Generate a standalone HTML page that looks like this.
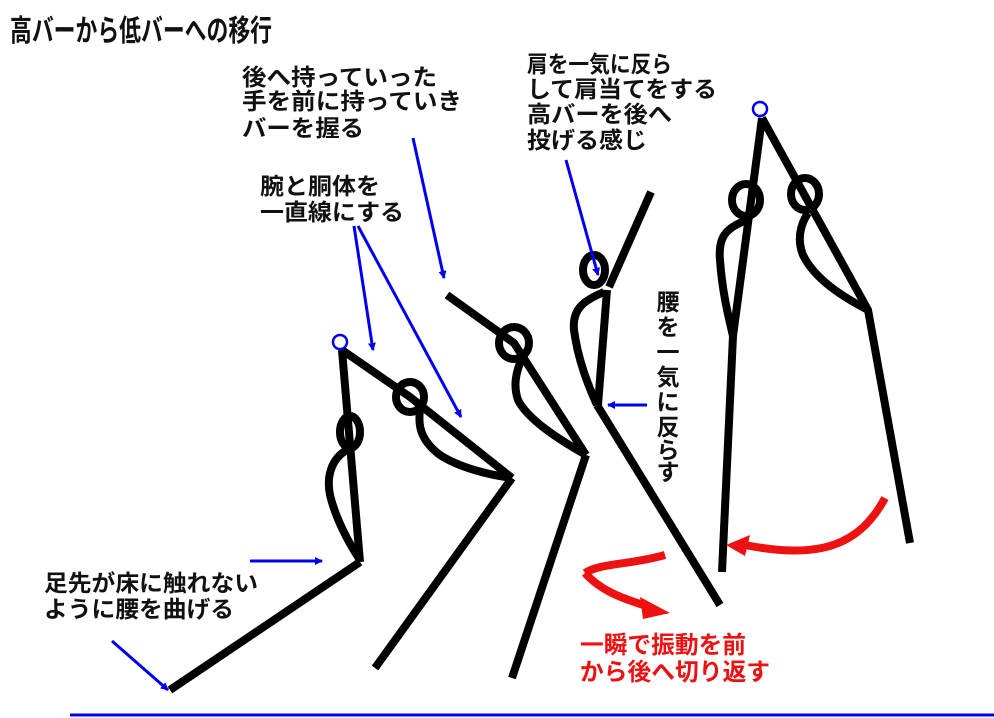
<!DOCTYPE html>
<html><head><meta charset="utf-8"><style>
html,body{margin:0;padding:0;background:#fff}
svg{display:block}
text{font-family:"Liberation Sans","Noto Sans CJK JP",sans-serif;font-weight:bold}
</style></head><body>
<svg width="994" height="718" viewBox="0 0 994 718" xmlns="http://www.w3.org/2000/svg">
<defs>
<marker id="ab" markerWidth="8" markerHeight="8" refX="7" refY="4" orient="auto" markerUnits="userSpaceOnUse" viewBox="0 0 8 8"><path d="M0,0 L8,4 L0,8 Z" fill="#0000ee"/></marker>
</defs>
<g font-size="22" fill="#111">
<text x="10" y="41" font-size="30" textLength="262" lengthAdjust="spacingAndGlyphs">高バーから低バーへの移行</text>
<text x="242" y="85" font-size="23" textLength="195" lengthAdjust="spacingAndGlyphs">後へ持っていった</text>
<text x="242" y="109" font-size="23" textLength="220" lengthAdjust="spacingAndGlyphs">手を前に持っていき</text>
<text x="242" y="136" font-size="23" textLength="122" lengthAdjust="spacingAndGlyphs">バーを握る</text>
<text x="260" y="194" font-size="23" textLength="120" lengthAdjust="spacingAndGlyphs">腕と胴体を</text>
<text x="260" y="220" font-size="23" textLength="144" lengthAdjust="spacingAndGlyphs">一直線にする</text>
<text x="527" y="72" font-size="23" textLength="145" lengthAdjust="spacingAndGlyphs">肩を一気に反ら</text>
<text x="527" y="97" font-size="23" textLength="190" lengthAdjust="spacingAndGlyphs">して肩当てをする</text>
<text x="527" y="122" font-size="23" textLength="145" lengthAdjust="spacingAndGlyphs">高バーを後へ</text>
<text x="527" y="148" font-size="23" textLength="120" lengthAdjust="spacingAndGlyphs">投げる感じ</text>
<text x="44" y="591" font-size="23" textLength="214" lengthAdjust="spacingAndGlyphs">足先が床に触れない</text>
<text x="44" y="617" font-size="23" textLength="190" lengthAdjust="spacingAndGlyphs">ように腰を曲げる</text>
</g>
<text x="580" y="653" font-size="24" fill="#ee1111" textLength="166" lengthAdjust="spacingAndGlyphs">一瞬で振動を前</text>
<text x="580" y="680" font-size="24" fill="#ee1111" textLength="190" lengthAdjust="spacingAndGlyphs">から後へ切り返す</text>
<g font-size="23" fill="#111" text-anchor="middle">
<text x="668" y="310">腰</text><text x="668" y="335">を</text><text x="668" y="360">一</text>
<text x="668" y="385">気</text><text x="668" y="410">に</text><text x="668" y="435">反</text>
<text x="668" y="458">ら</text><text x="668" y="480">す</text>
</g>
<line x1="70" y1="715" x2="994" y2="715" stroke="#0000ee" stroke-width="3"/>
<g stroke="#000" stroke-width="8" fill="none" stroke-linecap="butt" stroke-linejoin="miter">
<line x1="342" y1="350" x2="360" y2="562"/>
<polyline points="360,562 170,690"/>
<ellipse cx="350" cy="432" rx="10" ry="16"/>
<path d="M353,447 C332,455 326,475 330,495 C336,520 350,545 360,560"/>
<polyline points="342,350 410,397 512,478"/>
<line x1="512" y1="478" x2="375" y2="668"/>
<ellipse cx="410" cy="397" rx="14" ry="15"/>
<path d="M420,410 C418,425 420,440 440,455 C460,468 490,475 512,478"/>
<polyline points="447,295 514,343 586,455"/>
<line x1="586" y1="455" x2="512" y2="678"/>
<ellipse cx="514" cy="343" rx="15" ry="16"/>
<path d="M522,358 C516,372 513,385 518,400 C528,420 560,440 586,455"/>
<line x1="651" y1="192" x2="609" y2="287"/>
<ellipse cx="594" cy="270" rx="11" ry="15"/>
<line x1="607" y1="290" x2="598" y2="405"/>
<path d="M604,292 C585,300 572,308 574,330 C578,360 588,385 597,405"/>
<line x1="597" y1="405" x2="720" y2="605"/>
<line x1="762" y1="118" x2="733" y2="336"/>
<line x1="733" y1="336" x2="722" y2="572"/>
<polyline points="762,118 868,310 910,543"/>
<ellipse cx="746" cy="200" rx="14" ry="16"/>
<ellipse cx="805" cy="194" rx="14" ry="16"/>
<path d="M747,220 C725,228 718,238 720,260 C722,290 728,315 733,336"/>
<path d="M808,213 C800,225 797,240 803,255 C815,280 845,298 868,310"/>
</g>
<circle cx="340" cy="342" r="7" fill="none" stroke="#0000ee" stroke-width="2.5"/>
<circle cx="760" cy="109" r="7" fill="none" stroke="#0000ee" stroke-width="2.5"/>
<g stroke="#0000ee" stroke-width="3" marker-end="url(#ab)">
<line x1="112" y1="641" x2="168" y2="690"/>
<line x1="250" y1="561" x2="322" y2="561"/>
<line x1="354" y1="226" x2="373" y2="350"/>
<line x1="358" y1="226" x2="461" y2="417"/>
<line x1="413" y1="138" x2="444" y2="278"/>
<line x1="566" y1="160" x2="598" y2="275"/>
<line x1="647" y1="405" x2="608" y2="405"/>
</g>
<g stroke="#ee1111" stroke-width="8" fill="none">
<path d="M665,555 C630,565 600,563 585,573"/>
<path d="M585,573 C600,590 620,598 650,607"/>
<path d="M885,498 C860,545 820,560 745,545"/>
</g>
<polygon points="640,597 670,613 643,619" fill="#ee1111"/>
<polygon points="726,545 750,535 745,556" fill="#ee1111"/>
</svg>
</body></html>
